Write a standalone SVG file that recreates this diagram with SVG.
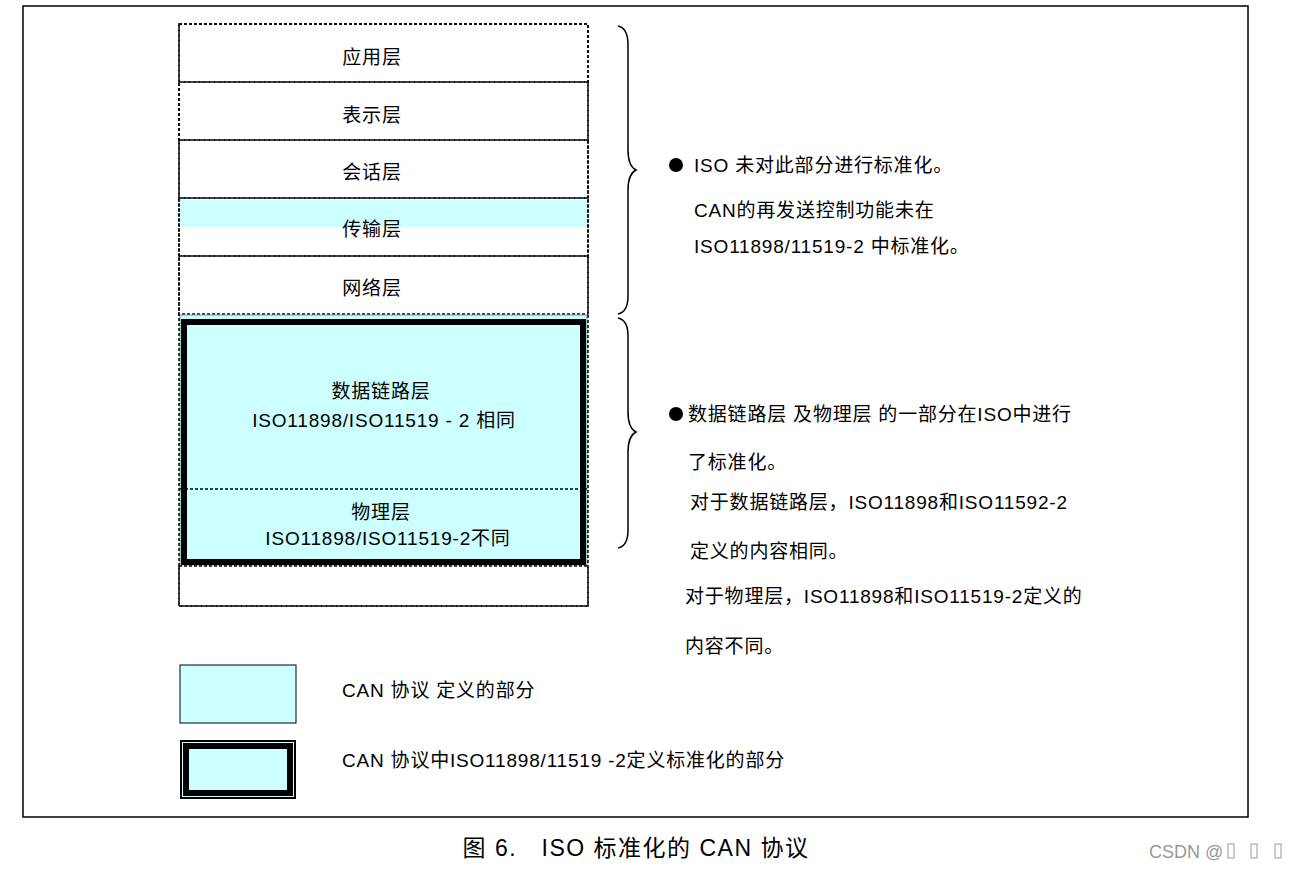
<svg xmlns="http://www.w3.org/2000/svg" width="1301" height="869" viewBox="0 0 1301 869">
<style>
text{font-family:"Liberation Sans","Noto Sans CJK SC",sans-serif;font-size:19px;fill:#000;letter-spacing:0.8px}
.c{text-anchor:middle}
.d{fill:none;stroke:#000;stroke-width:1.5;stroke-dasharray:3,2}
.w{fill:#fff}
.cy{fill:#ccffff}
.br{fill:none;stroke:#000;stroke-width:1.5}
</style>
<rect width="1301" height="869" fill="#fff"/>
<rect x="23" y="6" width="1225" height="811" fill="none" stroke="#000" stroke-width="1.5"/>
<g id="layers">
<g id="app"><rect x="179" y="24" width="409" height="58" class="d"/><text x="372" y="64" class="c">应用层</text></g>
<g id="pres"><rect x="179" y="82" width="409" height="58" class="d"/><text x="372" y="122" class="c">表示层</text></g>
<g id="sess"><rect x="179" y="140" width="409" height="58" class="d"/><text x="372" y="179" class="c">会话层</text></g>
<g id="trans"><rect x="180" y="200" width="407" height="27" class="cy"/><rect x="179" y="198" width="409" height="58" class="d"/><text x="372" y="236" class="c">传输层</text></g>
<g id="net"><rect x="179" y="256" width="409" height="58" class="d"/><text x="372" y="295" class="c">网络层</text></g>
<g id="dl"><rect x="180" y="315" width="407" height="250" class="cy" stroke="#6a9a9a" stroke-width="1"/>
<rect x="184" y="322" width="399" height="240" fill="none" stroke="#000" stroke-width="6"/>
<line x1="180" y1="489" x2="587" y2="489" stroke="#000" stroke-width="1.5" stroke-dasharray="3,2"/>
<text x="381" y="398" class="c">数据链路层</text><text x="384" y="427" class="c">ISO11898/ISO11519 - 2 相同</text></g>
<g id="phy"><text x="381" y="519" class="c">物理层</text><text x="388" y="545" class="c">ISO11898/ISO11519-2不同</text></g>
<g id="empty"><rect x="179" y="566" width="409" height="40" class="d"/></g>
<rect x="179" y="24" width="409" height="582" class="d"/>
</g>
<g id="connectors">
<path class="br" d="M618,26 Q628,28 628,45 L628,150 Q628,166 636,170 Q628,174 628,190 L628,296 Q628,312 618,314"/>
<path class="br" d="M618,318 Q628,320 628,336 L628,412 Q628,428 636,432 Q628,436 628,452 L628,530 Q628,546 618,548"/>
</g>
<g id="notes">
<circle cx="676" cy="165" r="7"/>
<text x="694" y="172">ISO 未对此部分进行标准化。</text>
<text x="694" y="217">CAN的再发送控制功能未在</text>
<text x="694" y="253">ISO11898/11519-2 中标准化。</text>
<circle cx="676" cy="414" r="7"/>
<text x="688" y="421">数据链路层 及物理层 的一部分在ISO中进行</text>
<text x="688" y="469">了标准化。</text>
<text x="690" y="509">对于数据链路层，ISO11898和ISO11592-2</text>
<text x="690" y="558">定义的内容相同。</text>
<text x="685" y="603">对于物理层，ISO11898和ISO11519-2定义的</text>
<text x="685" y="653">内容不同。</text>
</g>
<g id="legend">
<rect x="180" y="665" width="116" height="58" class="cy" stroke="#000" stroke-width="1"/>
<text x="342" y="697">CAN 协议 定义的部分</text>
<rect x="180" y="740" width="116" height="59" fill="#000"/>
<rect x="182" y="742" width="112" height="55" class="cy"/>
<rect x="186" y="746" width="104" height="47" fill="none" stroke="#000" stroke-width="6"/>
<text x="342" y="767">CAN 协议中ISO11898/11519 -2定义标准化的部分</text>
</g>
<text x="636" y="856" class="c" style="font-size:23px;letter-spacing:1.5px">图 6.　ISO 标准化的 CAN 协议</text>
<text x="1149" y="858" style="font-size:18px;fill:#999;letter-spacing:0">CSDN @</text>
<g fill="none" stroke="#999" stroke-width="1"><rect x="1228" y="844" width="6" height="14"/><rect x="1251" y="844" width="6" height="14"/><rect x="1275" y="844" width="6" height="14"/></g>
</svg>
